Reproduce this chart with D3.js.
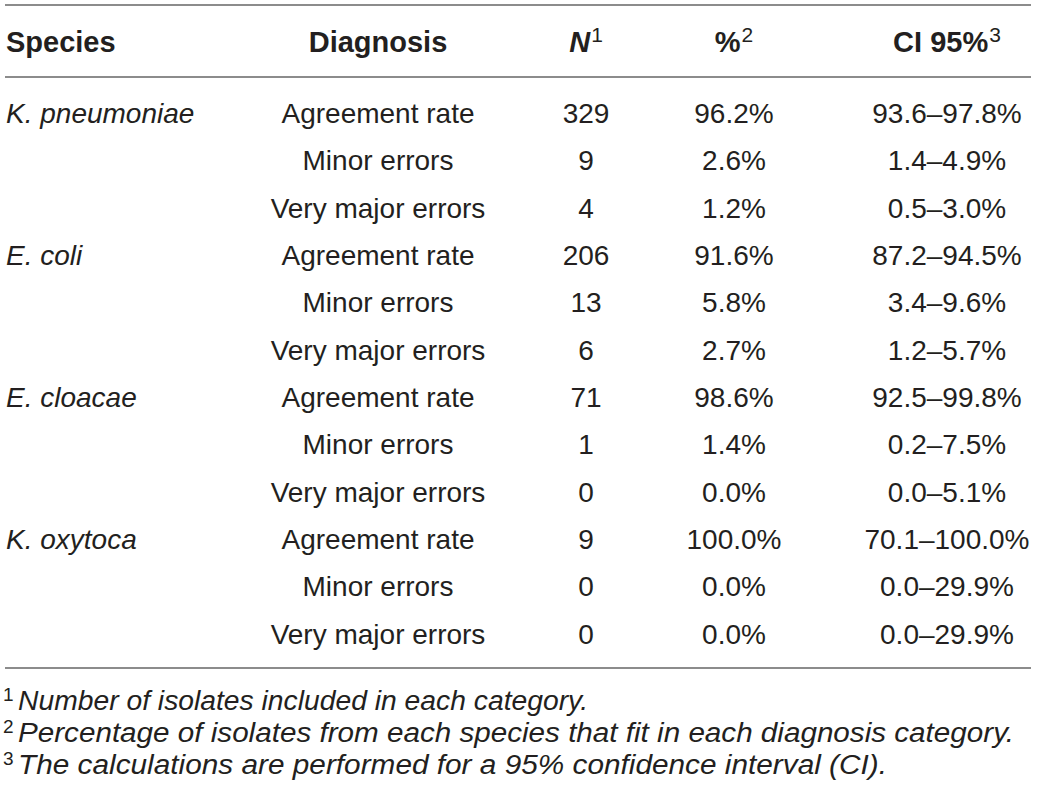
<!DOCTYPE html>
<html>
<head>
<meta charset="utf-8">
<script src="https://cdn.jsdelivr.net/npm/d3@7"></script>
<style>
  html, body { margin: 0; padding: 0; background: #fff; }
  svg { display: block; }
  text { font-family: "Liberation Sans", Arial, sans-serif; fill: #231f20; }
</style>
</head>
<body>
<svg id="chart"></svg>
<script>
const species = ['K. pneumoniae', 'E. coli', 'E. cloacae', 'K. oxytoca'];
const diagnoses = ['Agreement rate', 'Minor errors', 'Very major errors'];
const nValues = [329, 9, 4, 206, 13, 6, 71, 1, 0, 9, 0, 0];
const pctValues = [96.2, 2.6, 1.2, 91.6, 5.8, 2.7, 98.6, 1.4, 0.0, 100.0, 0.0, 0.0];
const ciLow = [93.6, 1.4, 0.5, 87.2, 3.4, 1.2, 92.5, 0.2, 0.0, 70.1, 0.0, 0.0];
const ciHigh = [97.8, 4.9, 3.0, 94.5, 9.6, 5.7, 99.8, 7.5, 5.1, 100.0, 29.9, 29.9];
const headers = [
  { key: 'species', label: 'Species', sup: '' },
  { key: 'diagnosis', label: 'Diagnosis', sup: '' },
  { key: 'n', label: 'N', sup: '1' },
  { key: 'pct', label: '%', sup: '2' },
  { key: 'ci', label: 'CI 95%', sup: '3' }
];
const footnotes = [
  'Number of isolates included in each category.',
  'Percentage of isolates from each species that fit in each diagnosis category.',
  'The calculations are performed for a 95% confidence interval (CI).'
];
const footnoteWidths = [570, 996, 869];

const width = 1039, height = 797;
const svg = d3.select('#chart').attr('width', width).attr('height', height);

const fmt = d3.format('.1f');
const rows = nValues.map((n, i) => ({
  species: i % 3 === 0 ? species[Math.floor(i / 3)] : '',
  diagnosis: diagnoses[i % 3],
  n: String(n),
  pct: fmt(pctValues[i]) + '%',
  ci: fmt(ciLow[i]) + '\u2013' + fmt(ciHigh[i]) + '%'
}));

// column positions
const colX = d3.scaleOrdinal()
  .domain(headers.map(d => d.key))
  .range([6, 378, 586, 734, 947]);
const colAnchor = d => (d === 'species' ? 'start' : 'middle');

// row positions
const y = d3.scalePoint()
  .domain(d3.range(rows.length))
  .range([113, 634]);

const fontSize = 28;

// rules
const rules = [5, 77, 668];
svg.selectAll('line.rule')
  .data(rules)
  .enter()
  .append('line')
  .attr('class', 'rule')
  .attr('x1', 5)
  .attr('x2', 1031)
  .attr('y1', d => d)
  .attr('y2', d => d)
  .attr('stroke', '#8c8c8c')
  .attr('stroke-width', 2);

// header
const head = svg.selectAll('text.head')
  .data(headers)
  .enter()
  .append('text')
  .attr('class', 'head')
  .attr('x', d => colX(d.key))
  .attr('y', 42)
  .attr('dy', '0.35em')
  .attr('text-anchor', d => colAnchor(d.key))
  .style('font-size', '29px')
  .style('font-weight', 'bold');

head.append('tspan')
  .style('font-style', d => (d.key === 'n' ? 'italic' : 'normal'))
  .text(d => d.label);
head.filter(d => d.sup)
  .append('tspan')
  .attr('dx', 1)
  .attr('dy', '-0.5em')
  .style('font-size', '21px')
  .style('font-weight', 'normal')
  .text(d => d.sup);

// body cells
const cols = headers.map(d => d.key);
const rowG = svg.selectAll('g.row')
  .data(rows)
  .enter()
  .append('g')
  .attr('class', 'row')
  .attr('transform', (d, i) => `translate(0,${y(i)})`);

rowG.selectAll('text')
  .data(d => cols.map(k => ({ key: k, value: d[k] })))
  .enter()
  .append('text')
  .attr('x', d => colX(d.key))
  .attr('dy', '0.35em')
  .attr('text-anchor', d => colAnchor(d.key))
  .style('font-size', fontSize + 'px')
  .style('font-style', d => (d.key === 'species' ? 'italic' : 'normal'))
  .text(d => d.value);

// footnotes
const fy = d3.scalePoint()
  .domain(d3.range(footnotes.length))
  .range([701, 765]);

svg.selectAll('text.fsup')
  .data(footnotes)
  .enter()
  .append('text')
  .attr('class', 'fsup')
  .attr('x', 3)
  .attr('y', (d, i) => fy(i))
  .attr('dy', '0.02em')
  .style('font-size', '19px')
  .text((d, i) => i + 1);

svg.selectAll('text.fnote')
  .data(footnotes)
  .enter()
  .append('text')
  .attr('class', 'fnote')
  .attr('x', 18)
  .attr('y', (d, i) => fy(i))
  .attr('dy', '0.35em')
  .attr('textLength', (d, i) => footnoteWidths[i])
  .attr('lengthAdjust', 'spacingAndGlyphs')
  .style('font-size', '27px')
  .style('font-style', 'italic')
  .text(d => d);
</script>
</body>
</html>
